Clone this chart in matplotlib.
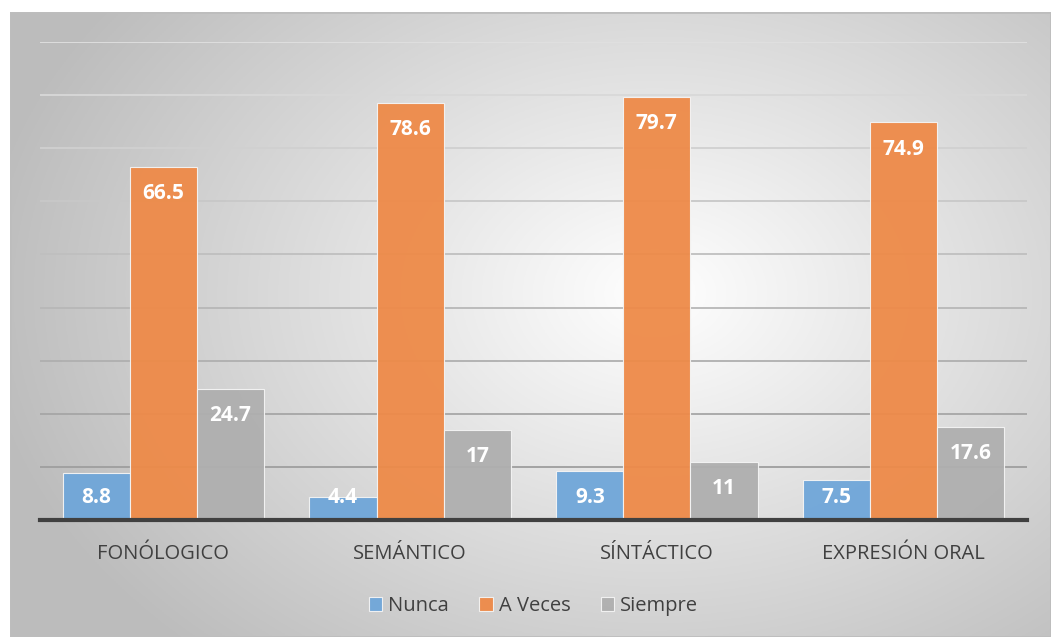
import numpy as np
import matplotlib.pyplot as plt
from matplotlib.patches import Rectangle

# data
categories = ["FONÓLOGICO", "SEMÁNTICO", "SÍNTÁCTICO", "EXPRESIÓN ORAL"]
nunca = [8.8, 4.4, 9.3, 7.5]
a_veces = [66.5, 78.6, 79.7, 74.9]
siempre = [24.7, 17, 11, 17.6]
series_names = ["Nunca", "A Veces", "Siempre"]
colors = ["#6fa6d9", "#ee8a48", "#afafaf"]

plt.rcParams['font.family'] = ['Open Sans', 'DejaVu Sans']

W, H = 1051, 637
fig = plt.figure(figsize=(W / 100, H / 100), dpi=100)
fig.patch.set_facecolor("white")

# radial gradient background of the chart area
bg = fig.add_axes([10 / W, 0, 1 - 10 / W, 1 - 12 / H])
yy, xx = np.mgrid[0:1:300j, 0:1:500j]
r = np.sqrt(((xx - 0.62) / 0.75) ** 2 + ((yy - 0.55) / 0.9) ** 2)
shade = np.clip(1.0 - 0.30 * r, 0.74, 1.0)
img = np.dstack([shade, shade, shade])
bg.imshow(img, extent=[0, 1, 0, 1], aspect="auto", origin="lower")
bg.add_patch(Rectangle((0, 0), 1, 1, fill=False, edgecolor="#bdbdbd", lw=2,
                       transform=bg.transAxes))
bg.set_axis_off()

ax = fig.add_axes([40 / W, (H - 520) / H, (1027 - 40) / W, (520 - 42) / H])
ax.patch.set_alpha(0)

# gridlines fade towards the top
grid_vals = np.arange(10, 91, 10)
for g in grid_vals:
    lvl = 0.62 + 0.26 * (g - 10) / 80
    ax.axhline(g, color=(lvl, lvl, lvl), lw=1.3, zorder=0)

x = np.arange(len(categories))
bw = 0.272
all_series = [nunca, a_veces, siempre]
for i, (vals, name, c) in enumerate(zip(all_series, series_names, colors)):
    pos = x + (i - 1) * bw
    ax.bar(pos, vals, width=bw, color=c, alpha=0.95, edgecolor="#f4f4f4",
           linewidth=0.8, label=name, zorder=3)
    for p, v in zip(pos, vals):
        ax.text(p, max(v - 5.1, 4.3), f"{v:g}", ha="center", va="center",
                color="white", fontsize=15, fontweight="bold", zorder=4)

ax.set_xlim(-0.5, len(categories) - 0.5)
ax.set_ylim(0, 90)
ax.set_yticks([])
ax.tick_params(axis="x", length=0, pad=17)
ax.set_xticks(x)
ax.set_xticklabels(categories, fontsize=14.5, color="#404040")
for s in ["top", "right", "left"]:
    ax.spines[s].set_visible(False)
ax.spines["bottom"].set_color("#404040")
ax.spines["bottom"].set_linewidth(3)
ax.spines["bottom"].set_zorder(5)

leg = ax.legend(loc="center", bbox_to_anchor=(0.5, -0.18), ncol=3,
                frameon=False, fontsize=14.5, handlelength=0.65, handleheight=0.65,
                handletextpad=0.3, columnspacing=1.5)
for t in leg.get_texts():
    t.set_color("#404040")

fig.savefig("out.png", dpi=100)
